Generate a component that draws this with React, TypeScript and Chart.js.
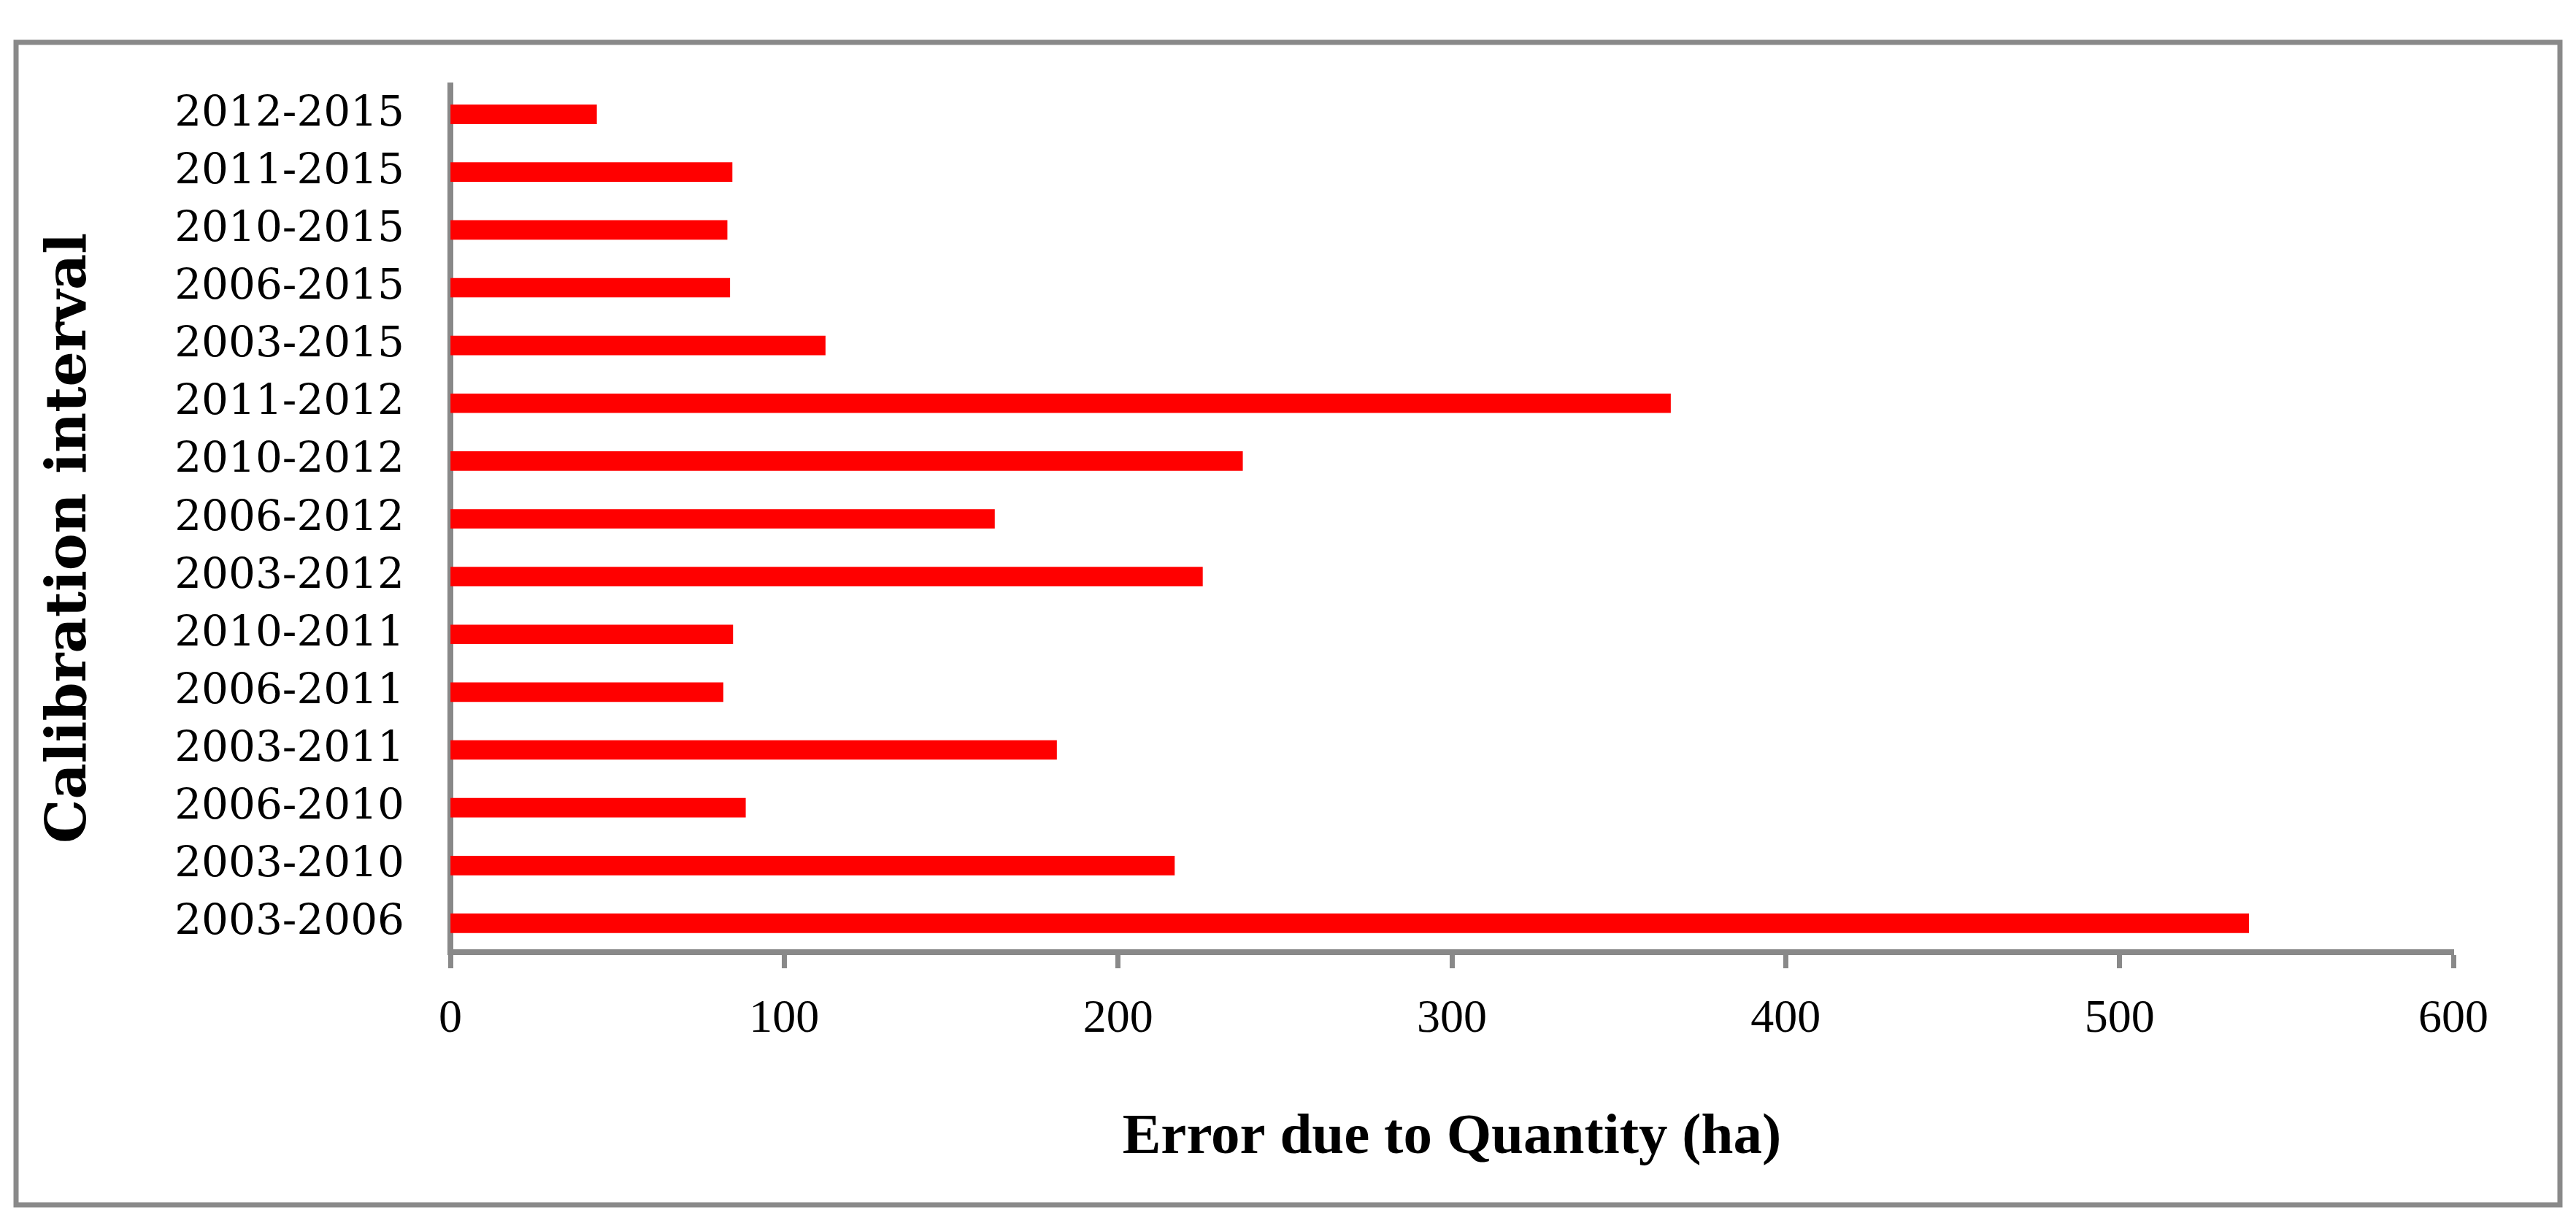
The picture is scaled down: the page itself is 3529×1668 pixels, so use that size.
import React, { useEffect, useRef } from "react";
import { Chart, registerables } from "chart.js";

Chart.register(...registerables);

// Categories listed top to bottom as they appear in the chart
const categories = [
  "2012-2015",
  "2011-2015",
  "2010-2015",
  "2006-2015",
  "2003-2015",
  "2011-2012",
  "2010-2012",
  "2006-2012",
  "2003-2012",
  "2010-2011",
  "2006-2011",
  "2003-2011",
  "2006-2010",
  "2003-2010",
  "2003-2006",
];

const errorValues = [
  43.8, 84.4, 82.9, 83.7, 112.3, 365.5, 237.3, 163.0, 225.3, 84.6, 81.7, 181.6,
  88.4, 216.9, 538.7,
];

const xTickValues = [0, 100, 200, 300, 400, 500, 600];

const xTitle = "Error due to Quantity (ha)";
// two trailing spaces nudge the rotated title slightly downward, as in the original
const yTitle = "Calibration interval  ";

const W = 3529;
const H = 1668;

export default function App() {
  const ref = useRef<HTMLCanvasElement>(null);

  useEffect(() => {
    if (!ref.current) return;
    const frame = {
      id: "frame",
      beforeDraw(chart: any) {
        const ctx = chart.ctx;
        ctx.save();
        ctx.fillStyle = "#ffffff";
        ctx.fillRect(0, 0, W, H);
        ctx.strokeStyle = "#898989";
        ctx.lineWidth = 7;
        ctx.strokeRect(22, 58, 3485, 1592);
        ctx.restore();
      },
    };
    const chart = new Chart(ref.current, {
      type: "bar",
      data: {
        labels: categories,
        datasets: [
          {
            data: errorValues,
            backgroundColor: "#FF0000",
            barThickness: 26,
          },
        ],
      },
      options: {
        indexAxis: "y",
        responsive: false,
        animation: false,
        layout: { padding: { top: 117, right: 168, bottom: 0, left: 0 } },
        plugins: {
          legend: { display: false },
          tooltip: { enabled: false },
        },
        scales: {
          x: {
            type: "linear",
            min: 0,
            max: 600,
            afterBuildTicks: (s: any) => {
              s.ticks = xTickValues.map((v) => ({ value: v }));
            },
            ticks: {
              color: "#000",
              font: { family: "'Liberation Serif'", size: 64 },
              padding: 32,
              maxRotation: 0,
            },
            grid: {
              drawOnChartArea: false,
              drawTicks: true,
              tickLength: 22,
              tickWidth: 7,
              tickColor: "#898989",
            },
            border: { display: true, color: "#898989", width: 8 },
            title: {
              display: true,
              text: xTitle,
              color: "#000",
              font: { family: "'Liberation Serif'", size: 79, weight: "bold" },
              padding: { top: 0, bottom: 62 },
            },
            afterFit: (s: any) => {
              s.height = 364;
            },
          },
          y: {
            ticks: {
              color: "#000",
              font: { family: "'DejaVu Serif'", size: 58 },
              padding: 63,
              autoSkip: false,
            },
            grid: { display: false, drawTicks: false },
            border: { display: true, color: "#898989", width: 8 },
            title: {
              display: true,
              text: yTitle,
              color: "#000",
              font: { family: "'DejaVu Serif'", size: 76, weight: "bold" },
              padding: { top: 52, bottom: 0 },
            },
            afterFit: (s: any) => {
              s.width = 617;
            },
          },
        },
      },
      plugins: [frame],
    });
    return () => chart.destroy();
  }, []);

  return (
    <div style={{ position: "absolute", left: 0, top: 0, width: W, height: H }}>
      <canvas ref={ref} width={W} height={H} style={{ display: "block" }} />
    </div>
  );
}
